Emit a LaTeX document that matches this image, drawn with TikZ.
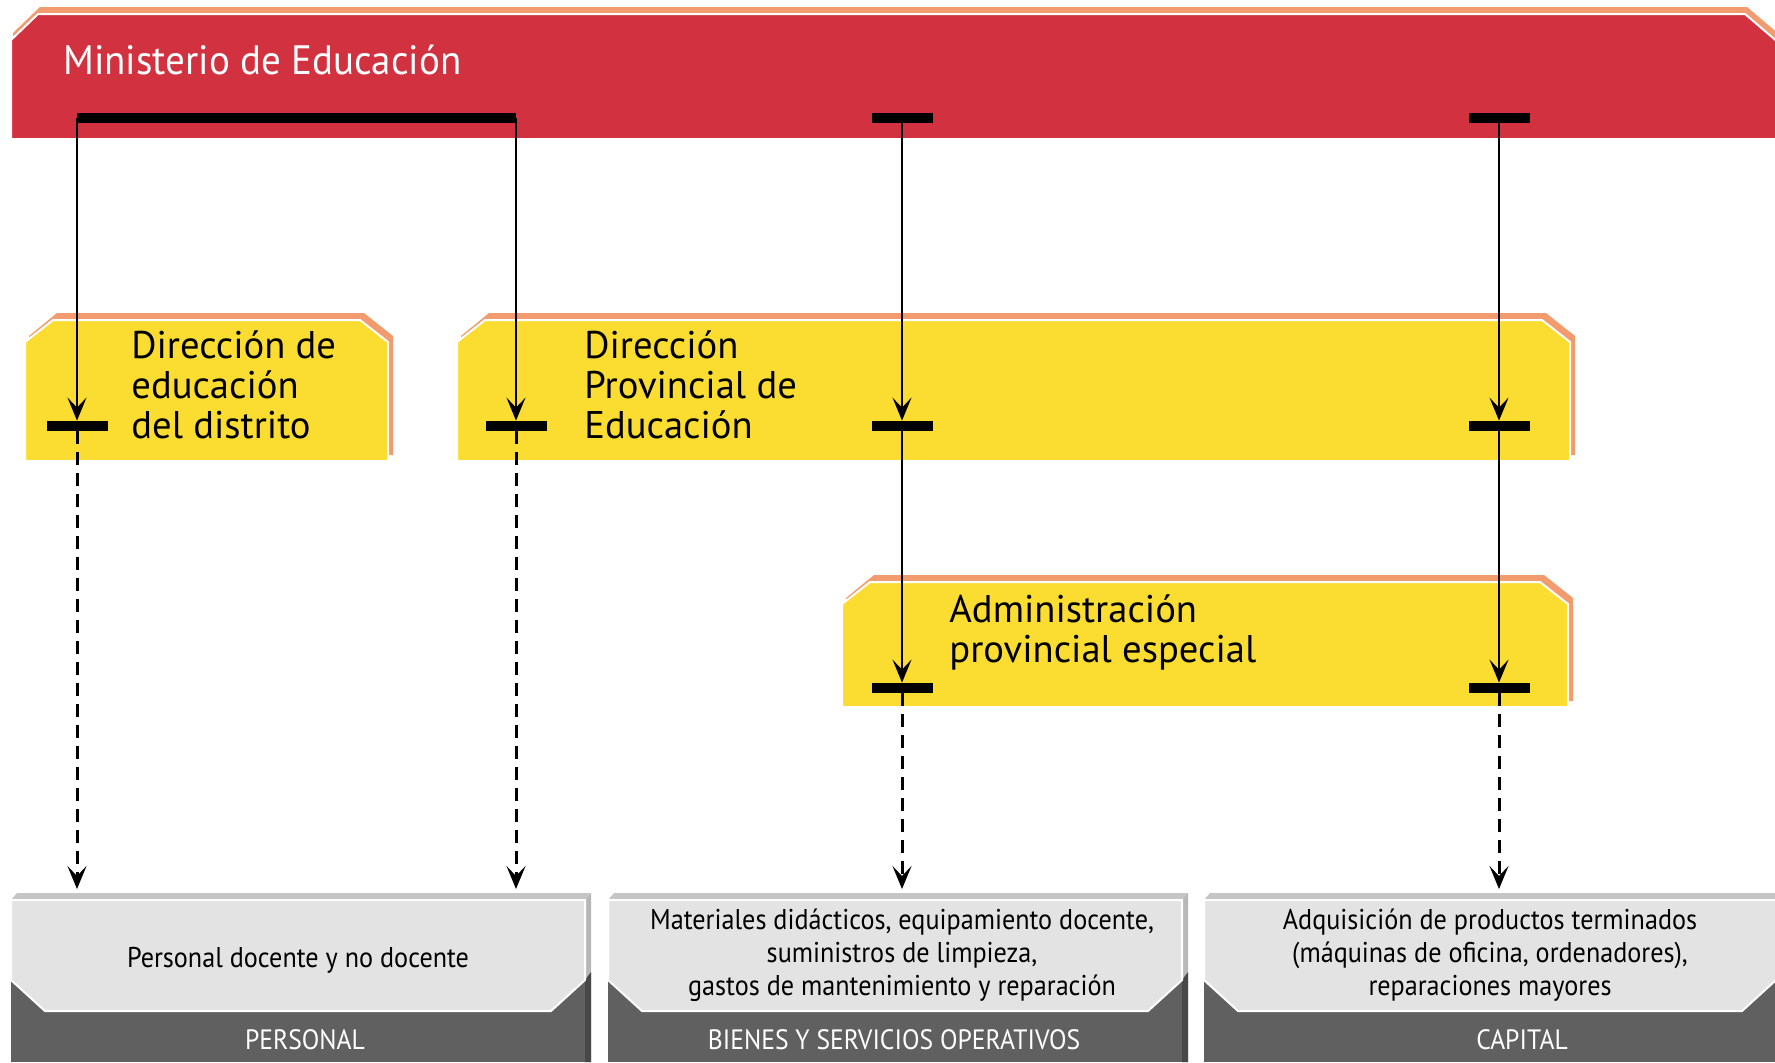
\documentclass[tikz,border=0pt]{standalone}
\usepackage{fontspec}
\setmainfont{PT Sans}
\newfontfamily\titlefont[FakeStretch=0.95]{PT Sans}
\newfontfamily\condfont[FakeStretch=0.915]{PT Sans}
\usetikzlibrary{arrows.meta}
\definecolor{minred}{RGB}{210,50,64}
\definecolor{diryellow}{RGB}{251,221,50}
\definecolor{edgeorange}{RGB}{242,155,110}
\definecolor{facegray}{RGB}{227,227,227}
\definecolor{basegray}{RGB}{96,96,96}
\definecolor{topgray}{RGB}{198,198,198}
\definecolor{sidegray}{RGB}{184,184,184}
\definecolor{sidedark}{RGB}{72,72,72}

\begin{document}
\begin{tikzpicture}[x=0.5pt,y=0.5pt,yscale=-1,
  backedge/.style={fill=edgeorange},
  redbanner/.style={fill=minred,draw=white,line width=1pt},
  dirbox/.style={fill=diryellow,draw=white,line width=1pt},
  facebox/.style={fill=facegray,draw=white,line width=1pt},
  titletext/.style={anchor=base west,inner sep=0pt,text=white,font=\titlefont\fontsize{20.5}{24}\selectfont},
  dirtext/.style={anchor=west,align=left,inner sep=0pt,font=\fontsize{19.3}{20}\selectfont},
  facetext/.style={align=center,inner sep=0pt,font=\condfont\fontsize{14.3}{16.5}\selectfont},
  basetext/.style={inner sep=0pt,text=white,font=\condfont\fontsize{14}{16}\selectfont},
  tbar/.style={fill=black,inner sep=0pt,minimum width=30.5pt,minimum height=5pt},
  barline/.style={line width=5pt},
  flow/.style={line width=1.1pt,-{Stealth[length=11.5pt,width=9.5pt,inset=5pt]}},
  dflow/.style={flow,line width=1.5pt,dash pattern=on 6.5pt off 4pt}]
\useasboundingbox (0,0) rectangle (1775,1062);

%Shape: Ministerio banner
\fill[backedge] (13,33) -- (40,7) -- (1747,7) -- (1780,35) -- (1780,132) -- (13,132) -- cycle;
\draw[redbanner] (11,40) -- (38,14) -- (1745,14) -- (1780,44) -- (1780,139) -- (11,139) -- cycle;

%Shape: Direccion de educacion del distrito
\fill[backedge] (29,336) -- (57,313) -- (364,313) -- (393,336) -- (393,455) -- (29,455) -- cycle;
\draw[dirbox] (25,342) -- (53,320) -- (360,320) -- (388,342) -- (388,461) -- (25,461) -- cycle;
%Shape: Direccion Provincial
\fill[backedge] (461,336) -- (489,313) -- (1546,313) -- (1575,336) -- (1575,455) -- (461,455) -- cycle;
\draw[dirbox] (457,342) -- (485,320) -- (1542,320) -- (1570,342) -- (1570,461) -- (457,461) -- cycle;
%Shape: Administracion provincial
\fill[backedge] (846,598) -- (874,575) -- (1544,575) -- (1573,598) -- (1573,701) -- (846,701) -- cycle;
\draw[dirbox] (842,604) -- (870,582) -- (1540,582) -- (1568,604) -- (1568,707) -- (842,707) -- cycle;

%Shape: Personal
\fill[topgray] (11,900) -- (17,893) -- (591,893) -- (585,900) -- cycle;
\fill[sidegray] (585,900) -- (591,893) -- (591,1062) -- (585,1062) -- cycle;
\fill[sidedark] (585,980) -- (591,972) -- (591,1062) -- (585,1062) -- cycle;
\fill[basegray] (11,980) rectangle (585,1062);
\draw[facebox] (11,900) -- (585,900) -- (585,980) -- (551,1011) -- (45,1011) -- (11,980) -- cycle;
%Shape: Bienes y servicios
\fill[topgray] (608,900) -- (614,893) -- (1188,893) -- (1182,900) -- cycle;
\fill[sidegray] (1182,900) -- (1188,893) -- (1188,1062) -- (1182,1062) -- cycle;
\fill[sidedark] (1182,980) -- (1188,972) -- (1188,1062) -- (1182,1062) -- cycle;
\fill[basegray] (608,980) rectangle (1182,1062);
\draw[facebox] (608,900) -- (1182,900) -- (1182,980) -- (1148,1011) -- (642,1011) -- (608,980) -- cycle;
%Shape: Capital
\fill[topgray] (1204,900) -- (1210,893) -- (1780,893) -- (1780,900) -- cycle;
\fill[basegray] (1204,980) rectangle (1780,1062);
\draw[facebox] (1204,900) -- (1776,900) -- (1776,980) -- (1742,1011) -- (1238,1011) -- (1204,980) -- cycle;

%Bars
\coordinate (m1) at (77,118);
\coordinate (m2) at (516,118);
\draw[barline] (m1) -- (m2);
\node[tbar] (m3) at (902,118) {};
\node[tbar] (m4) at (1499,118) {};
\node[tbar] (d1) at (77,426) {};
\node[tbar] (d2) at (516,426) {};
\node[tbar] (d3) at (902,426) {};
\node[tbar] (d4) at (1499,426) {};
\node[tbar] (a3) at (902,688) {};
\node[tbar] (a4) at (1499,688) {};
\coordinate (p1) at (77,889);
\coordinate (p2) at (516,889);
\coordinate (p3) at (902,889);
\coordinate (p4) at (1499,889);

%Straight Lines
\draw[flow] (m1) -- (d1);
\draw[flow] (m2) -- (d2);
\draw[flow] (m3) -- (d3);
\draw[flow] (m4) -- (d4);
\draw[flow] (d3) -- (a3);
\draw[flow] (d4) -- (a4);
\draw[dflow] (d1) -- (p1);
\draw[dflow] (d2) -- (p2);
\draw[dflow] (a3) -- (p3);
\draw[dflow] (a4) -- (p4);

% Text Node
\node[titletext] (ministerio) at (63,74) {Ministerio de Educación};
% Text Node
\node[dirtext] (distrito) at (131,385) {Dirección de\\educación\\del distrito};
% Text Node
\node[dirtext] (provincial) at (584,385) {Dirección\\Provincial de\\Educación};
% Text Node
\node[dirtext] (especial) at (949,632) {Administración\\provincial especial};
% Text Node
\node[facetext] (personal) at (298,960) {Personal docente y no docente};
% Text Node
\node[basetext] (personalhd) at (305,1040) {PERSONAL};
% Text Node
\node[facetext] (bienes) at (902,955) {Materiales didácticos, equipamiento docente,\\suministros de limpieza,\\gastos de mantenimiento y reparación};
% Text Node
\node[basetext] (bieneshd) at (894,1040) {BIENES Y SERVICIOS OPERATIVOS};
% Text Node
\node[facetext] (capital) at (1490,955) {Adquisición de productos terminados\\(máquinas de oficina, ordenadores),\\reparaciones mayores};
% Text Node
\node[basetext] (capitalhd) at (1522,1040) {CAPITAL};

\end{tikzpicture}
\end{document}
